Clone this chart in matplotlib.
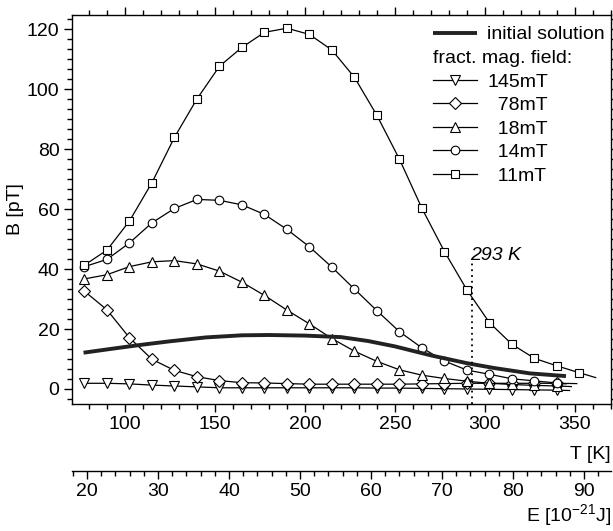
import numpy as np
import matplotlib.pyplot as plt
from matplotlib.ticker import MultipleLocator, FixedLocator

plt.rcParams['font.family'] = ['Liberation Sans', 'DejaVu Sans']
plt.rcParams['mathtext.fontset'] = 'custom'
plt.rcParams['mathtext.rm'] = 'Liberation Sans'
plt.rcParams['font.size'] = 14

# temperature grid of the measured points [K]
T = [77.5, 90, 102.5, 115, 127.5, 140, 152.5, 165, 177.5, 190, 202.5, 215,
     227.5, 240, 252.5, 265, 277.5, 290, 302.5, 315, 327.5, 340, 352.5]

# fractional magnetic fields [pT]; the *_end pair is where the line stops (no symbol)
b_11 = [41.3, 46.3, 56.0, 68.8, 83.9, 96.7, 107.6, 113.9, 118.9, 120.3, 118.2, 113.0,
        103.9, 91.2, 76.6, 60.2, 45.8, 33.0, 22.1, 14.9, 10.2, 7.7, 5.4]
t_11_end, b_11_end = 361.5, 3.8
b_14 = [40.8, 43.2, 48.7, 55.4, 60.2, 63.2, 62.9, 61.4, 58.2, 53.2, 47.4, 40.6,
        33.3, 26.1, 19.1, 13.7, 9.3, 6.3, 4.9, 3.4, 2.7, 2.0]
t_14_end, b_14_end = 345, 1.7
b_18 = [36.7, 38.1, 40.8, 42.4, 42.8, 41.7, 39.3, 35.6, 31.2, 26.3, 21.7, 16.8,
        12.6, 9.2, 6.4, 4.6, 3.5, 2.6, 1.9, 1.5, 1.2, 1.0]
t_18_end, b_18_end = 348, 0.8
b_78 = [32.6, 26.4, 17.1, 9.9, 6.2, 4.1, 2.8, 2.1, 2.0, 1.8, 1.6, 1.6,
        1.6, 1.6, 1.6, 1.7, 1.8, 1.9, 1.9, 1.9, 1.9, 1.9]
t_78_end, b_78_end = 351, 1.8
b_145 = [1.9, 1.9, 1.7, 1.3, 1.0, 0.7, 0.4, 0.4, 0.4, 0.4, 0.4, 0.4,
         0.4, 0.3, 0.3, 0.2, 0.1, 0.0, -0.1, -0.2, -0.3, -0.4]
t_145_end, b_145_end = 347, -0.5

# initial solution
t_init = [77, 95, 110, 125, 145, 165, 180, 200, 220, 235, 250, 270, 290, 305, 325, 345]
b_init = [12.1, 13.6, 14.8, 15.9, 17.2, 17.9, 18.0, 17.8, 17.3, 16.0, 14.2, 11.2,
          8.6, 7.0, 5.2, 4.3]

e_ticks = [20, 30, 40, 50, 60, 70, 80, 90]

room_t = 293
e_per_k = 0.2535  # E [1e-21 J] per K

fig = plt.figure(figsize=(6.13, 5.31), dpi=100)
ax = fig.add_axes([0.1175, 0.2392, 0.8792, 0.7326])

series = [
    (b_145, t_145_end, b_145_end, 'v', 6.8, '145mT'),
    (b_78, t_78_end, b_78_end, 'D', 6.0, '  78mT'),
    (b_18, t_18_end, b_18_end, '^', 6.8, '  18mT'),
    (b_14, t_14_end, b_14_end, 'o', 6.2, '  14mT'),
    (b_11, t_11_end, b_11_end, 's', 5.8, '  11mT'),
]

handles = []
for b, t_end, b_end, m, ms, lab in series:
    n = len(b)
    xs = T[:n] + [t_end]
    ys = b + [b_end]
    h, = ax.plot(xs, ys, color='black', lw=0.9, marker=m, ms=ms, mfc='white',
                 mec='black', mew=0.8, markevery=list(range(n)), label=lab)
    handles.append(h)

h_init, = ax.plot(t_init, b_init, color='#222222', lw=2.8, label='initial solution',
                  solid_capstyle='butt')

ax.plot([room_t, room_t], [-5, 42], color='black', lw=1.3, ls=(0, (1, 2.2)))
ax.text(room_t - 1.3, 43, '293 K', style='italic', ha='left', va='baseline')

ax.set_xlim(70.6, 370)
ax.set_ylim(-5, 124.7)
ax.xaxis.set_major_locator(MultipleLocator(50))
ax.xaxis.set_minor_locator(MultipleLocator(10))
ax.yaxis.set_major_locator(MultipleLocator(20))
ax.yaxis.set_minor_locator(MultipleLocator(20 / 6))
ax.tick_params(which='both', direction='out', top=True, right=True, width=1)
ax.tick_params(which='major', length=6, pad=3)
ax.tick_params(which='minor', length=3.5)
for s in ax.spines.values():
    s.set_linewidth(1)

ax.set_xlabel('T [K]', loc='right', labelpad=9)
ax.set_ylabel('B [pT]', labelpad=2)

sec = ax.secondary_xaxis(-0.172, functions=(lambda t: t * e_per_k, lambda e: e / e_per_k))
sec.xaxis.set_major_locator(FixedLocator(e_ticks))
sec.xaxis.set_minor_locator(MultipleLocator(2))
sec.tick_params(which='both', direction='out', width=1)
sec.tick_params(which='major', length=6, pad=3)
sec.tick_params(which='minor', length=3.5)
sec.spines['bottom'].set_linewidth(1)
sec.set_xlabel(r'E [10$^{\mathregular{-21}}$J]', loc='right', labelpad=1.5)

leg1 = ax.legend([h_init], ['initial solution'], loc='upper left',
                 bbox_to_anchor=(0.669, 0.972), frameon=False, borderpad=0,
                 borderaxespad=0, handlelength=2.3, handletextpad=0.5)
ax.add_artist(leg1)
ax.legend(handles, [h.get_label() for h in handles], title='fract. mag. field:',
          title_fontsize=14, alignment='left', loc='upper left',
          bbox_to_anchor=(0.669, 0.909), frameon=False, borderpad=0,
          borderaxespad=0, handlelength=2.3, handletextpad=0.5, labelspacing=0.3)

fig.savefig('out.png', dpi=100)
